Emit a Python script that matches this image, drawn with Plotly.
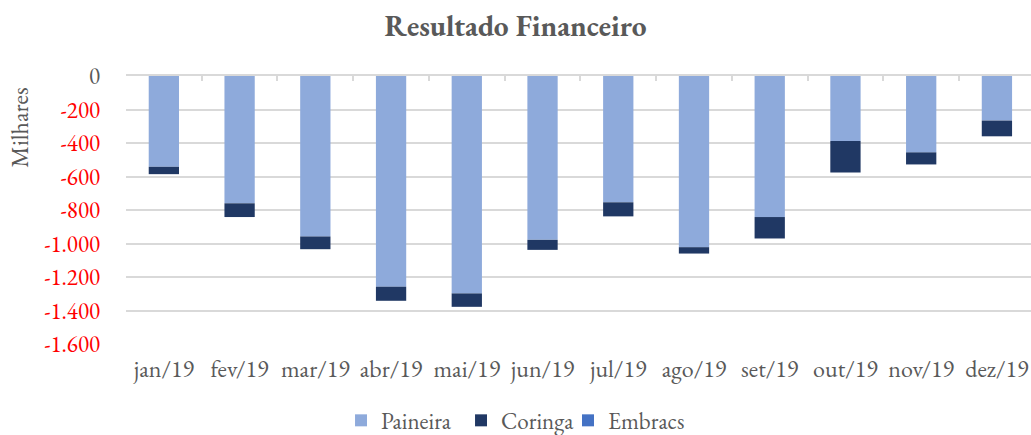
import plotly.graph_objects as go

# Resultado Financeiro (milhares)
meses = ['jan/19', 'fev/19', 'mar/19', 'abr/19', 'mai/19', 'jun/19',
         'jul/19', 'ago/19', 'set/19', 'out/19', 'nov/19', 'dez/19']
paineira = [-542, -760, -958, -1258, -1298, -978, -754, -1022, -842, -388, -456, -266]
coringa = [-44, -82, -76, -84, -80, -60, -84, -38, -128, -188, -72, -94]
embracs = [0] * 12

ytick_vals = [0, -200, -400, -600, -800, -1000, -1200, -1400, -1600]
ytick_text = ['0', '-200', '-400', '-600', '-800', '-1.000', '-1.200', '-1.400', '-1.600']

serif = 'Garamond, "EB Garamond", "Liberation Serif", "DejaVu Serif", serif'
grey = '#595959'

ytick_html = [t if v == 0 else "<span style='color:#ff0000'>%s</span>" % t
              for v, t in zip(ytick_vals, ytick_text)]

fig = go.Figure()
fig.add_bar(x=meses, y=paineira, name='Paineira', marker_color='#8eaadb',
            marker_line_width=0, legend='legend')
fig.add_bar(x=meses, y=coringa, name='Coringa', marker_color='#203864',
            marker_line_width=0, legend='legend2')
fig.add_bar(x=meses, y=embracs, name='Embracs', marker_color='#4472c4',
            marker_line_width=0, legend='legend3')
# invisible trace so the top axis (ticks on the zero line) gets drawn
fig.add_scatter(x=meses, y=[0] * 12, xaxis='x2', mode='markers',
                marker_opacity=0, showlegend=False, hoverinfo='skip')

xrange = [-0.5, 11.45]
leg = dict(orientation='h', xanchor='left', y=-0.285, yanchor='middle',
           font=dict(size=23, color=grey), itemwidth=30, bgcolor='rgba(0,0,0,0)')

fig.update_layout(
    barmode='relative',
    bargap=0.6,
    width=1031, height=435,
    margin=dict(l=126, r=0, t=76, b=91, autoexpand=False),
    paper_bgcolor='white', plot_bgcolor='white',
    font=dict(family=serif, color=grey, size=24),
    title=dict(text='<b>Resultado Financeiro</b>', x=0.5, xanchor='center',
               y=0.94, yanchor='middle', font=dict(size=29.5, color=grey)),
    legend=dict(leg, x=0.2376),
    legend2=dict(leg, x=0.3702),
    legend3=dict(leg, x=0.4884),
    xaxis=dict(type='category', range=xrange, showgrid=False, showline=False, ticks='',
               automargin=False, tickfont=dict(size=24, color=grey),
               ticklabelstandoff=8),
    xaxis2=dict(type='category', overlaying='x', matches='x', side='top',
                automargin=False, showgrid=False, showline=True,
                linecolor='#d9d9d9', linewidth=1.5,
                ticks='inside', ticklen=5, tickcolor='#d9d9d9', tickwidth=1.5,
                tickson='boundaries', showticklabels=False),
    yaxis=dict(range=[-1600, 0], tickvals=ytick_vals, ticktext=ytick_html,
               automargin=False, showgrid=True, gridcolor='#d9d9d9', gridwidth=1.5,
               zeroline=False, tickfont=dict(size=23, color=grey), ticklabelstandoff=25),
    annotations=[dict(text='Milhares', xref='paper', yref='paper', x=-0.118, y=0.808,
                      xanchor='center', yanchor='middle', textangle=-90,
                      showarrow=False, font=dict(size=24, color=grey))],
)

fig.write_html("out.html", config={'displayModeBar': False},
               post_script="document.body.style.margin='0';")
